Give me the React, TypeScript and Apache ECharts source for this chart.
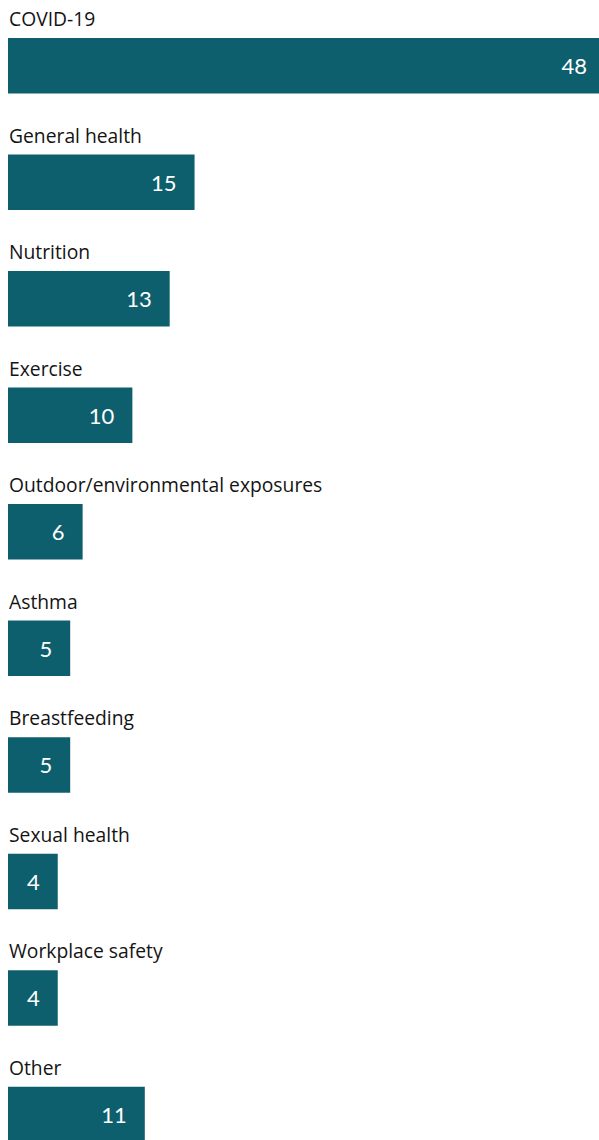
import React, { useEffect, useRef } from "react";
import * as echarts from "echarts";

const categories = [
  "COVID-19",
  "General health",
  "Nutrition",
  "Exercise",
  "Outdoor/environmental exposures",
  "Asthma",
  "Breastfeeding",
  "Sexual health",
  "Workplace safety",
  "Other",
];
const values = [48, 15, 13, 10, 6, 5, 5, 4, 4, 11];
const xMax = 48;

const BAR_COLOR = "#0e5f6d";
const LABEL_FONT = "'Open Sans', 'Noto Sans', sans-serif";
const VALUE_FONT = "Lato, 'Noto Sans', sans-serif";

export default function App() {
  const ref = useRef<HTMLDivElement>(null);
  useEffect(() => {
    if (!ref.current) return;
    const chart = echarts.init(ref.current, null, { renderer: "svg" });
    chart.setOption({
      animation: false,
      grid: {
        left: 8,
        width: 597,
        top: 7.5,
        height: 1165.2,
        containLabel: false,
        outerBoundsMode: "none",
      },
      xAxis: {
        type: "value",
        min: 0,
        max: xMax,
        show: false,
      },
      yAxis: {
        type: "category",
        data: categories,
        inverse: true,
        axisLine: { show: false },
        axisTick: { show: false },
        splitLine: { show: false },
        axisLabel: {
          inside: true,
          margin: 1,
          align: "left",
          verticalAlign: "bottom",
          lineHeight: 20,
          padding: [0, 0, 37, 0],
          fontSize: 19.3,
          fontFamily: LABEL_FONT,
          color: "#141414",
        },
        z: 10,
      },
      series: [
        {
          type: "bar",
          data: values,
          barWidth: 55.5,
          itemStyle: { color: BAR_COLOR },
          label: {
            show: true,
            position: "insideRight",
            distance: 18,
            color: "#ffffff",
            fontSize: 22,
            fontFamily: VALUE_FONT,
          },
        },
      ],
    });
    return () => chart.dispose();
  }, []);
  return (
    <div style={{ position: "absolute", left: 0, top: 0, width: 599, height: 1140, overflow: "hidden" }}>
      <div ref={ref} style={{ width: 599, height: 1180 }} />
    </div>
  );
}
